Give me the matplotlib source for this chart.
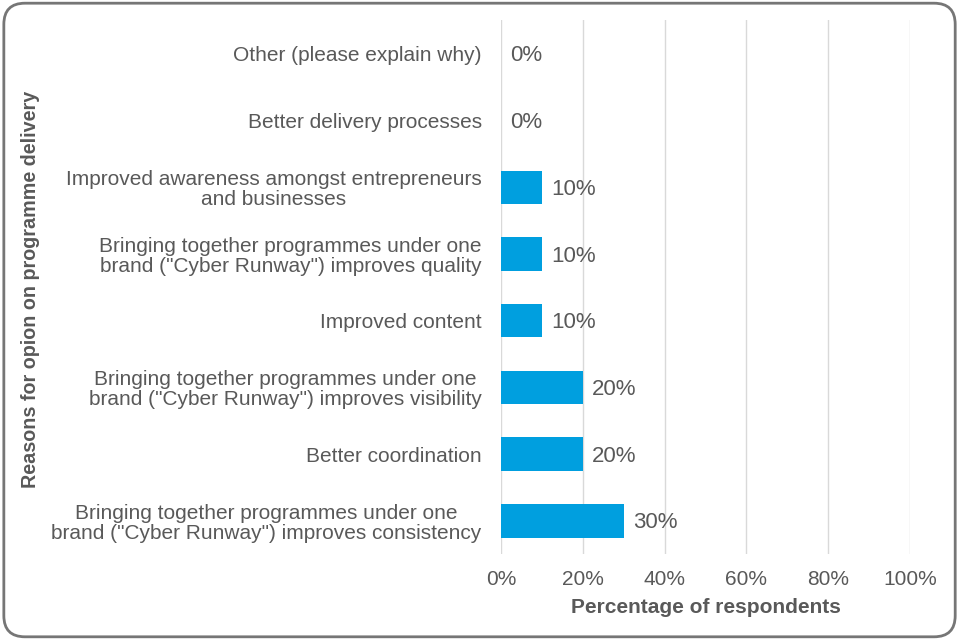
import matplotlib
matplotlib.use("Agg")
import matplotlib.pyplot as plt
from matplotlib.patches import FancyBboxPatch
import numpy as np

C_BAR = "#009FDF"
C_TEXT = "#595959"
C_GRID = "#D9D9D9"

plt.rcParams.update({"font.family": ["Liberation Sans", "DejaVu Sans"],
                     "font.size": 15})

# categorias de cima para baixo
categorias = [
    "Other (please explain why)",
    "Better delivery processes",
    "Improved awareness amongst entrepreneurs\nand businesses",
    "Bringing together programmes under one\nbrand (\"Cyber Runway\") improves quality",
    "Improved content",
    "Bringing together programmes under one\nbrand (\"Cyber Runway\") improves visibility",
    "Better coordination",
    "Bringing together programmes under one\nbrand (\"Cyber Runway\") improves consistency",
]
valores = [0, 0, 10, 10, 10, 20, 20, 30]
ticks_x = [0, 20, 40, 60, 80, 100]

fig = plt.figure(figsize=(9.6, 6.4), dpi=100)
ax = fig.add_axes([0.522, 0.134, 0.426, 0.834])

y = np.arange(len(categorias))
bars = ax.barh(y, valores, height=0.5, color=C_BAR, zorder=3)
for r, v in zip(bars, valores):
    ax.annotate(f"{v}%", (r.get_width(), r.get_y() + r.get_height() / 2),
                xytext=(6.5, -1.5), textcoords="offset points",
                ha="left", va="center", color=C_TEXT, fontsize=16)

ax.set_ylim(len(categorias) - 0.5, -0.5)
ax.set_xlim(0, 100)
ax.set_yticks(y)
ax.set_yticklabels(categorias, color=C_TEXT, ha="right", multialignment="center",
                   linespacing=1.05)
ax.set_xticks(ticks_x)
ax.set_xticklabels([f"{t}%" for t in ticks_x], color=C_TEXT)
ax.tick_params(axis="both", length=0)
ax.tick_params(axis="y", pad=14)
ax.tick_params(axis="x", pad=11)
ax.xaxis.grid(True, color=C_GRID, lw=1, zorder=0)
for s in ax.spines.values():
    s.set_visible(False)

ax.set_xlabel("Percentage of respondents", color=C_TEXT, fontweight="bold",
              labelpad=7)
fig.text(0.032, 0.548, "Reasons for opion on programme delivery", rotation=90,
         ha="center", va="center", color=C_TEXT, fontweight="bold", fontsize=14.2)

# moldura arredondada
borda = FancyBboxPatch((0.004, 0.005), 0.991, 0.99,
                       boxstyle="round,pad=0,rounding_size=0.022",
                       transform=fig.transFigure, fill=False,
                       edgecolor="#767676", lw=2, mutation_aspect=1.5)
fig.patches.append(borda)

fig.savefig("out.png", dpi=100)
